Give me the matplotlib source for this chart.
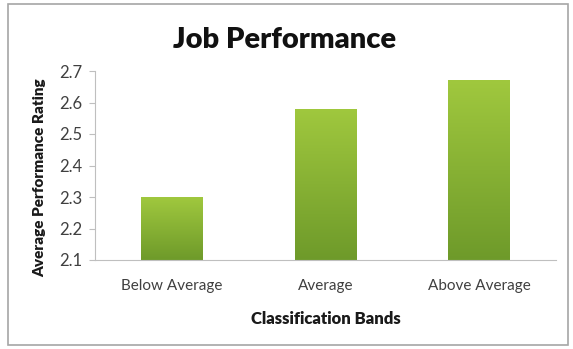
import numpy as np
import matplotlib.pyplot as plt
from matplotlib.colors import LinearSegmentedColormap
from matplotlib.patches import Rectangle

# Job performance by classification band
categories = ["Below Average", "Average", "Above Average"]
ratings = [2.30, 2.58, 2.67]
yticks = [2.1, 2.2, 2.3, 2.4, 2.5, 2.6, 2.7]

plt.rcParams['font.family'] = ['Lato', 'DejaVu Sans']

fig = plt.figure(figsize=(5.73, 3.49), dpi=100)
fig.patch.set_facecolor('white')

# outer chart border
fig.patches.append(Rectangle((8 / 573, 4 / 349), 560 / 573, 341 / 349,
                             transform=fig.transFigure, fill=False,
                             edgecolor='#a6a6a6', linewidth=1.2))

ax = fig.add_axes([95 / 573, 89 / 349, 461 / 573, 189 / 349])

x = np.arange(len(categories))
bars = ax.bar(x, np.array(ratings) - 2.1, bottom=2.1, width=0.4,
              color='#86b034', edgecolor='none')

# vertical gradient fill, light green top to darker bottom
grad = LinearSegmentedColormap.from_list('g', ['#6e9a2a', '#a0c83e'])
g = np.linspace(0, 1, 256).reshape(-1, 1)
for b in bars:
    x0, y0 = b.get_x(), b.get_y()
    im = ax.imshow(g, cmap=grad, origin='lower', aspect='auto',
                   extent=[x0, x0 + b.get_width(), y0, y0 + b.get_height()],
                   zorder=2)
    im.set_clip_path(b)

ax.set_xlim(-0.5, 2.5)
ax.set_ylim(2.1, 2.7)
ax.set_yticks(yticks)
ax.set_yticklabels([f"{t:.1f}" for t in yticks])
ax.set_xticks(x)
ax.set_xticklabels(categories)

for s in ['top', 'right']:
    ax.spines[s].set_visible(False)
ax.spines['left'].set_color('#bfbfbf')
ax.spines['bottom'].set_color('#bfbfbf')
ax.tick_params(axis='y', colors='#bfbfbf', labelcolor='#404040',
               labelsize=12, length=4, pad=5)
ax.tick_params(axis='x', length=0, labelcolor='#404040', labelsize=11, pad=14)

ax.set_ylabel("Average Performance Rating", fontsize=11, fontweight='heavy',
              color='#1a1a1a')
ax.yaxis.set_label_coords(-0.106, 0.434)
ax.set_xlabel("Classification Bands", fontsize=12, fontweight='heavy',
              color='#1a1a1a', labelpad=13)
fig.text(0.497, 0.885, "Job Performance", ha='center', va='center',
         fontsize=21, fontweight='heavy', color='#111111')

fig.savefig('out.png', dpi=100)
